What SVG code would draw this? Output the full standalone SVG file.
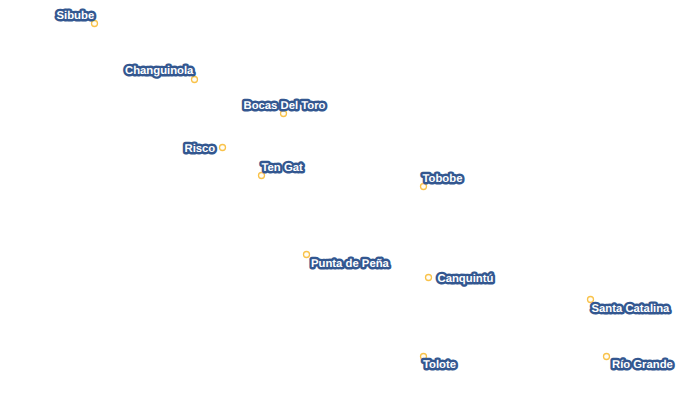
<svg xmlns="http://www.w3.org/2000/svg" width="700" height="410" viewBox="0 0 700 410">
<style>
.d{fill:#fffdf5;stroke:#f9c24a;stroke-width:1.300}
.l{font:bold 11.300px "Liberation Sans",Arial,sans-serif;text-rendering:geometricPrecision;fill:#fff;stroke:#335790;stroke-width:4.800px;stroke-linejoin:round;paint-order:stroke}
</style>
<rect width="700" height="410" fill="#fff"/>
<g id="connectors"/>
<g id="sibube"><circle class="d" cx="94.500" cy="23.500" r="3"/><text class="l" x="56.500" y="18.500">Sibube</text></g>
<g id="changuinola"><circle class="d" cx="194.500" cy="79.500" r="3"/><text class="l" x="125" y="73.500">Changuinola</text></g>
<g id="bocas"><circle class="d" cx="283.500" cy="113.500" r="3"/><text class="l" x="243.500" y="108.500">Bocas Del Toro</text></g>
<g id="risco"><circle class="d" cx="222.500" cy="147.500" r="3"/><text class="l" x="184.500" y="151.500">Risco</text></g>
<g id="tengat"><circle class="d" cx="261.500" cy="175.500" r="3"/><text class="l" x="261.500" y="170.500">Ten Gat</text></g>
<g id="tobobe"><circle class="d" cx="423.500" cy="186.500" r="3"/><text class="l" x="422.500" y="182">Tobobe</text></g>
<g id="punta"><circle class="d" cx="306.500" cy="254.500" r="3"/><text class="l" x="311" y="266.500">Punta de Peña</text></g>
<g id="canquintu"><circle class="d" cx="428.500" cy="277.500" r="3"/><text class="l" x="437.500" y="281.500">Canquintú</text></g>
<g id="catalina"><circle class="d" cx="590.500" cy="299.500" r="3"/><text class="l" x="591.500" y="311.500">Santa Catalina</text></g>
<g id="tolote"><circle class="d" cx="423.500" cy="356.500" r="3"/><text class="l" x="423" y="367.500">Tolote</text></g>
<g id="riogrande"><circle class="d" cx="606.500" cy="356.500" r="3"/><text class="l" x="612" y="367.500">Río Grande</text></g>
</svg>
